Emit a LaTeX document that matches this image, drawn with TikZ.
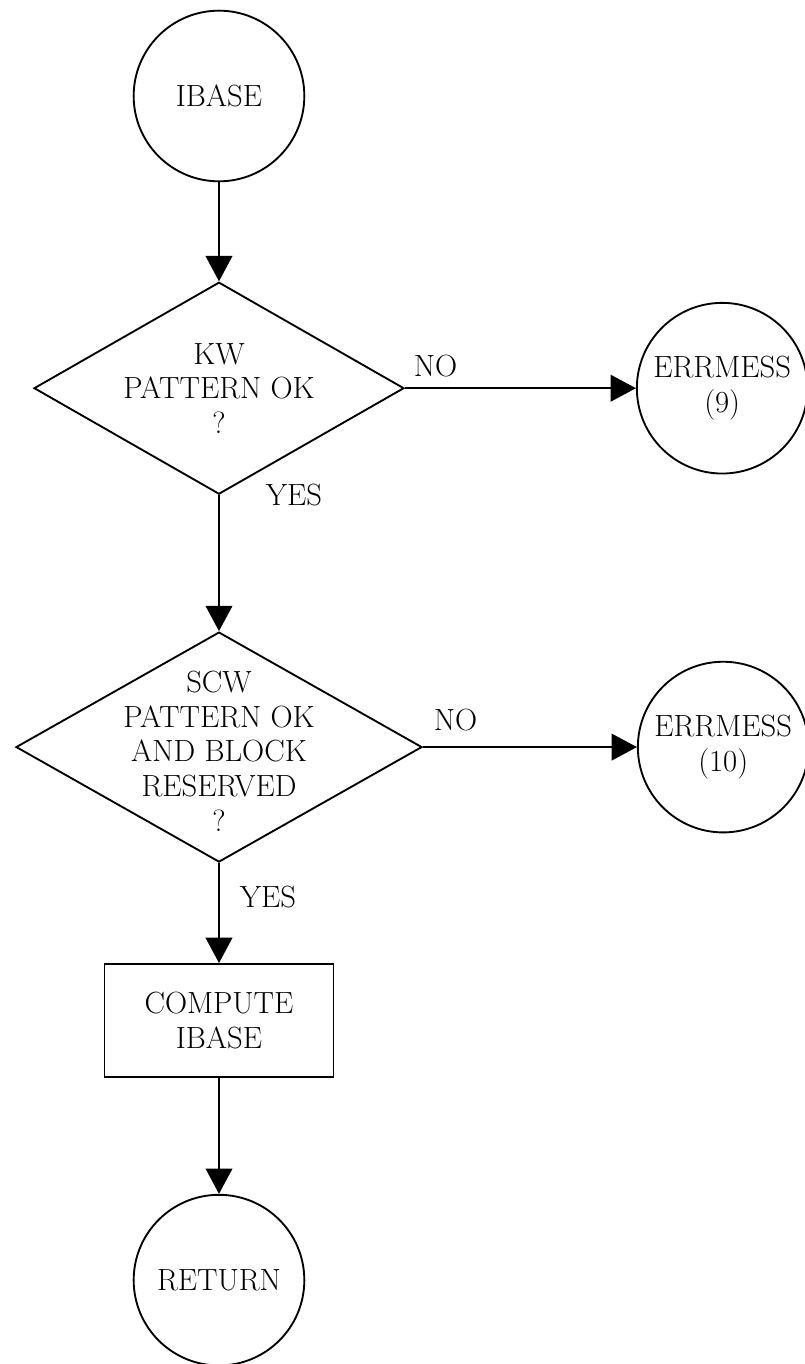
\documentclass[tikz,border=0pt]{standalone}
\usepackage{tikz}
\usetikzlibrary{positioning, arrows.meta, shapes.geometric}

\begin{document}
\begin{tikzpicture}[
    line width=1.4pt,
    font=\fontsize{23}{26}\selectfont,
    term/.style={circle, draw, minimum size=128pt, align=center, inner sep=0pt},
    decision/.style={diamond, draw, inner sep=0pt},
    process/.style={rectangle, draw, minimum width=171.75pt, minimum height=84.75pt, align=center, inner sep=0pt},
    flowtext/.style={align=center, inner sep=0pt},
    answer/.style={inner sep=0pt},
    arrow/.style={-{Triangle[length=19pt, width=20pt]}},
    node distance=75pt
]
\useasboundingbox (-164.25pt,72pt) rectangle (439.5pt,-951pt);

% Terminals
\node[term] (ibase) {IBASE};

% Tests
\node[decision, minimum width=277.5pt, minimum height=159pt, below=74.25pt of ibase] (kw) {};
\node[flowtext] (kwtext) at (kw) {KW\\PATTERN OK\\?};
\node[term, right=173.25pt of kw] (err9) {ERRMESS\\(9)};

\node[decision, minimum width=304.5pt, minimum height=172.5pt, below=102pt of kw] (scw) {};
\node[flowtext, yshift=-3pt] (scwtext) at (scw) {SCW\\PATTERN OK\\AND BLOCK\\RESERVED\\?};
\node[term, right=160.5pt of scw] (err10) {ERRMESS\\(10)};

% Compute and return
\node[process, below=of scw] (compute) {COMPUTE\\IBASE};
\node[term, below=87pt of compute] (ret) {RETURN};

% Flow
\draw[arrow] (ibase) -- (kw);
\draw[arrow] (kw) -- node[answer, pos=0, anchor=south west, xshift=6pt, yshift=8pt] {NO} (err9);
\draw[arrow] (kw) -- node[answer, pos=0, anchor=west, xshift=34.5pt] {YES} (scw);
\draw[arrow] (scw) -- node[answer, pos=0, anchor=south west, xshift=7.5pt, yshift=11.5pt] {NO} (err10);
\draw[arrow] (scw) -- node[answer, pos=0.34, anchor=west, xshift=15pt] {YES} (compute);
\draw[arrow] (compute) -- (ret);

\end{tikzpicture}
\end{document}
